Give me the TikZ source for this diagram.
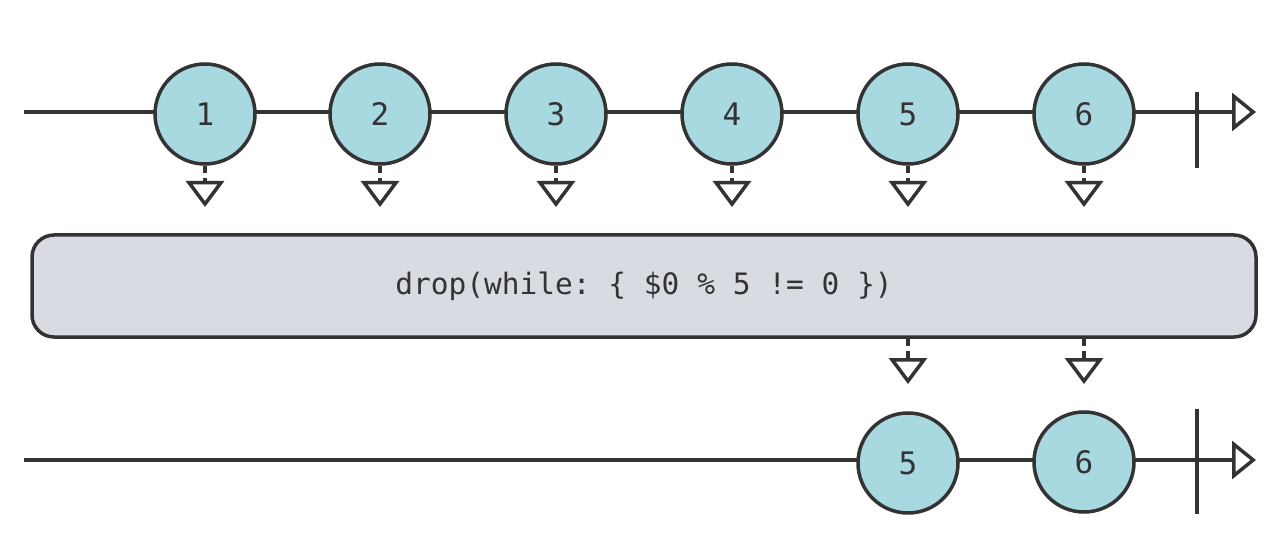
\documentclass[tikz,border=0pt]{standalone}
\usepackage{fontspec}
\setmonofont{DejaVu Sans Mono}
\usetikzlibrary{arrows.meta}
\definecolor{ink}{HTML}{333333}
\definecolor{ball}{HTML}{A8D9E1}
\definecolor{opbox}{HTML}{D8DBE2}
\tikzset{
  marble/.style={circle, draw=ink, fill=ball, line width=3.5pt, minimum size=100pt, inner sep=0pt, font=\ttfamily\fontsize{31}{34}\selectfont, text=ink},
  timeline/.style={draw=ink, line width=3.5pt, -{Triangle[open, length=24pt, width=38pt]}},
  endbar/.style={draw=ink, line width=3.5pt},
  emit/.style={draw=ink, line width=3.5pt, dash pattern=on 7pt off 5pt, -{Triangle[open, length=26pt, width=38pt]}},
  operator/.style={draw=ink, fill=opbox, line width=3.5pt, rounded corners=22pt, minimum width=1224pt, minimum height=102pt, font=\ttfamily\fontsize{29.5}{32}\selectfont, text=ink}
}
\begin{document}
\begin{tikzpicture}[x=1pt, y=-1pt]
\useasboundingbox (0,0) rectangle (1280,548);
% top timeline
\coordinate (ts) at (24,112);
\coordinate (te) at (1256,112);
\draw[timeline] (ts) -- (te);
\coordinate (bt1) at (1197,92);
\coordinate (bt2) at (1197,168);
\draw[endbar] (bt1) -- (bt2);
\foreach \i/\x in {1/205,2/380,3/556,4/732,5/908,6/1084}{
  \node[marble] (c\i) at (\x,114) {\i};
  \coordinate (t\i) at (\x,207);
  \draw[emit] (c\i.south) -- (t\i);
}
% operator
\node[operator] (op) at (644,286) {drop(while: \{ \$0 \% 5 != 0 \})};
% bottom timeline
\coordinate (bs) at (24,460);
\coordinate (be) at (1256,460);
\draw[timeline] (bs) -- (be);
\coordinate (bb1) at (1197,409);
\coordinate (bb2) at (1197,514);
\draw[endbar] (bb1) -- (bb2);
\coordinate (u5) at (908,384);
\coordinate (u6) at (1084,384);
\draw[emit] (op.south -| u5) -- (u5);
\draw[emit] (op.south -| u6) -- (u6);
\node[marble] (d5) at (908,463) {5};
\node[marble] (d6) at (1084,462) {6};
\end{tikzpicture}
\end{document}
